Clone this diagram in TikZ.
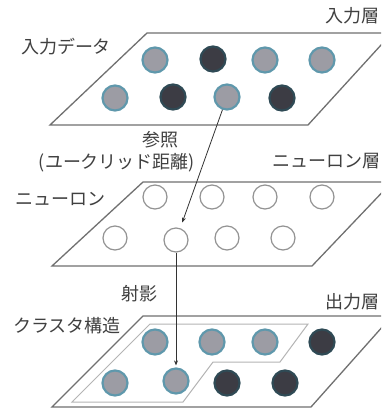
\documentclass[tikz,border=0pt]{standalone}
\usepackage{fontspec}
\setmainfont{Noto Sans CJK JP}
\usetikzlibrary{arrows.meta}
\definecolor{gfill}{HTML}{9C9CA4}
\definecolor{gedge}{HTML}{5F98AC}
\definecolor{dfill}{HTML}{3C3C44}
\definecolor{dedge}{HTML}{2F4A55}
\definecolor{layer}{HTML}{707070}
\definecolor{inner}{HTML}{B4B4B4}
\definecolor{txt}{HTML}{404040}
\tikzset{
  gcirc/.style={circle,minimum size=25pt,inner sep=0pt,fill=gfill,draw=gedge,line width=2.2pt},
  dcirc/.style={circle,minimum size=25pt,inner sep=0pt,fill=dfill,draw=dedge,line width=2.2pt},
  ncirc/.style={circle,minimum size=24pt,inner sep=0pt,fill=white,draw=gray!85,line width=1.2pt},
  layerbox/.style={draw=layer,line width=1.3pt,line join=miter},
  clusterline/.style={draw=inner,line width=1pt},
  lbl/.style={inner sep=0pt,text=txt,font=\fontsize{18}{21}\selectfont},
  arr/.style={draw=black!80,line width=0.8pt,-{Stealth[length=5pt,width=4pt]}}
}
\begin{document}
\begin{tikzpicture}[x=1pt,y=-1pt]
\useasboundingbox (0,0) rectangle (381,413);
\clip (0,0) rectangle (381,413);
\fill[white] (0,0) rectangle (381,413);
% layers
\draw[layerbox] (50,125) -- (147,33) -- (392,33) -- (308,125) -- cycle;
\draw[layerbox] (52,266) -- (143,182) -- (392,182) -- (312,266) -- cycle;
\draw[layerbox] (52,407) -- (143,316) -- (392,316) -- (311,407) -- cycle;
\draw[clusterline] (72,402) -- (150,324) -- (308,324) -- (280,362) -- (213,362) -- (183,402) -- cycle;
% input layer
\node[gcirc] (t1) at (155,60) {};
\node[dcirc] (t2) at (213,59) {};
\node[gcirc] (t3) at (265,60) {};
\node[gcirc] (t4) at (322,60) {};
\node[gcirc] (t5) at (115,98) {};
\node[dcirc] (t6) at (173,97) {};
\node[gcirc] (t7) at (227,97) {};
\node[dcirc] (t8) at (282,98) {};
% neuron layer
\node[ncirc] (m1) at (155,197) {};
\node[ncirc] (m2) at (212,197) {};
\node[ncirc] (m3) at (265,197) {};
\node[ncirc] (m4) at (322,197) {};
\node[ncirc] (m5) at (115,238) {};
\node[ncirc] (m6) at (176,240) {};
\node[ncirc] (m7) at (227,238) {};
\node[ncirc] (m8) at (283,238) {};
% output layer
\node[gcirc] (b1) at (155,342) {};
\node[gcirc] (b2) at (212,342) {};
\node[gcirc] (b3) at (265,342) {};
\node[dcirc] (b4) at (322,342) {};
\node[gcirc] (b5) at (115,383) {};
\node[gcirc] (b6) at (176,381) {};
\node[dcirc] (b7) at (227,383) {};
\node[dcirc] (b8) at (285,383) {};
% connectors
\draw[arr,shorten >=6pt] (t7) -- (m6);
\draw[arr,shorten >=2pt] (m6.south) -- (b6.north);
% labels
\node[lbl,anchor=west] (l1) at (325,16) {入力層};
\node[lbl] (l2) at (66,47) {入力データ};
\node[lbl] (l3) at (160,140) {参照};
\node[lbl] (l4) at (117,163) {(ユークリッド距離)};
\node[lbl,anchor=west] (l5) at (272,161) {ニューロン層};
\node[lbl] (l6) at (61,199) {ニューロン};
\node[lbl] (l7) at (139,294) {射影};
\node[lbl,anchor=west] (l8) at (325,302) {出力層};
\node[lbl] (l9) at (67,326) {クラスタ構造};
\end{tikzpicture}
\end{document}
